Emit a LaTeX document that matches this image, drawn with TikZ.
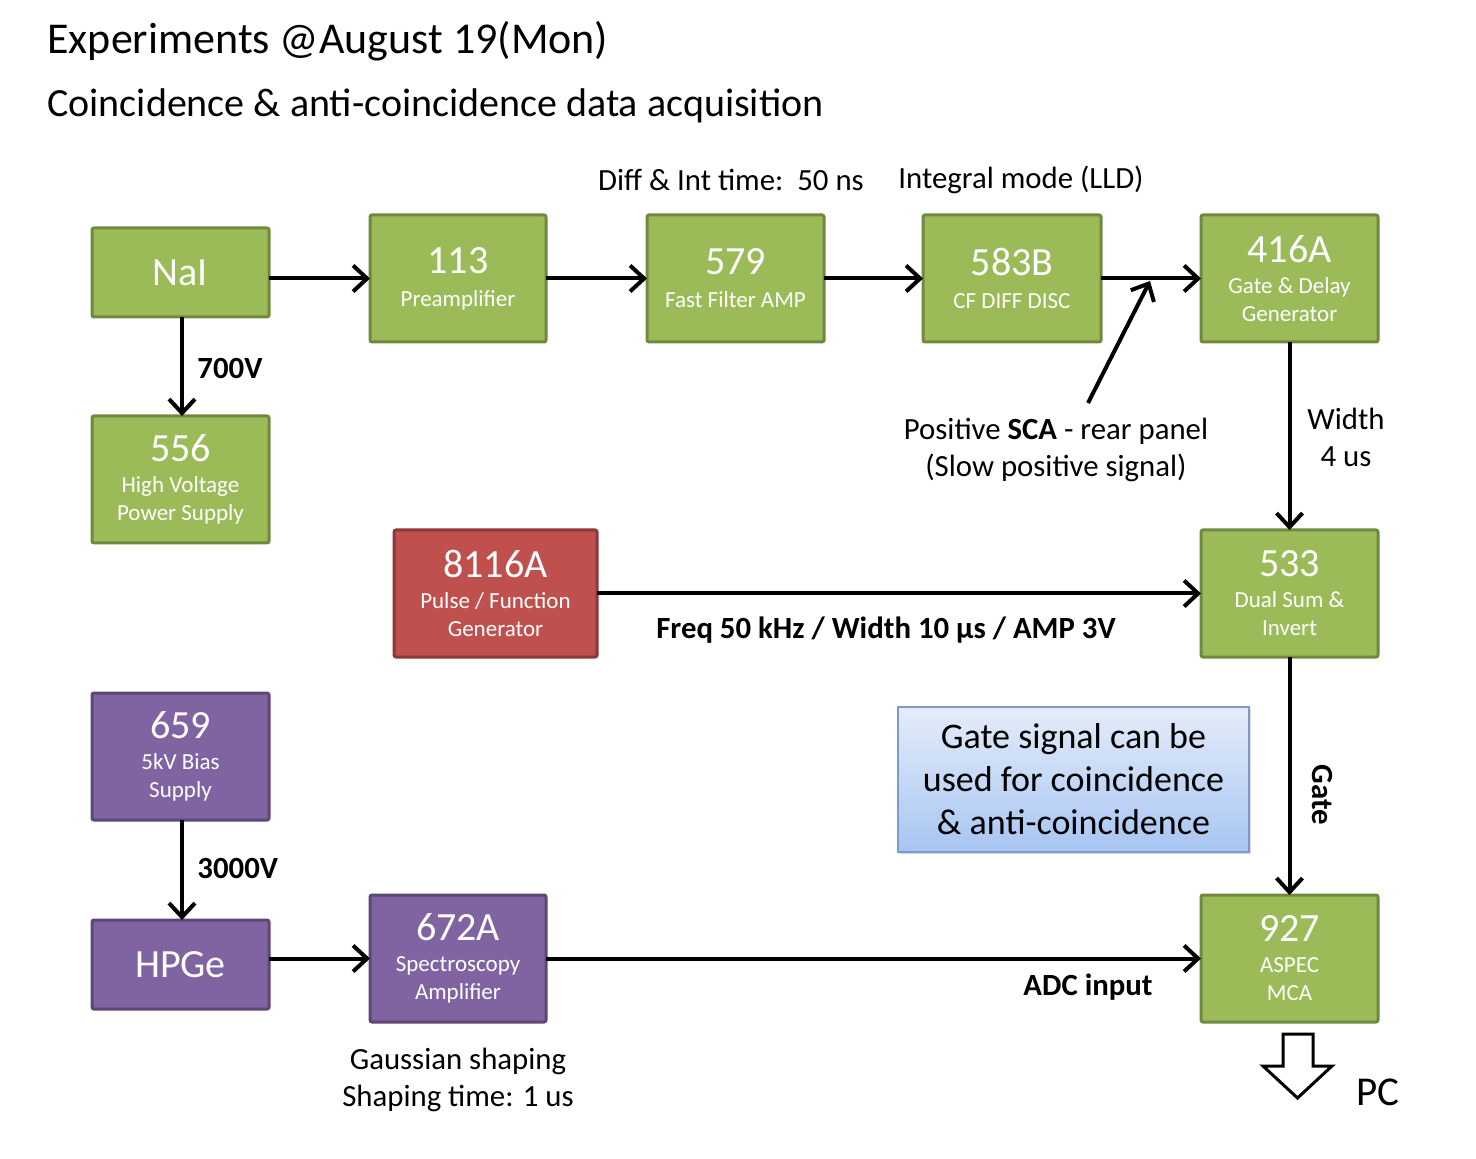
\documentclass[tikz,border=0pt]{standalone}
\usepackage{fontspec}
\setmainfont{Carlito}
\usetikzlibrary{arrows.meta,shadows}
\definecolor{gfill}{HTML}{9BBB59}\definecolor{gline}{HTML}{71893F}
\definecolor{rfill}{HTML}{C0504D}\definecolor{rline}{HTML}{8C3836}
\definecolor{pfill}{HTML}{8064A2}\definecolor{pline}{HTML}{5C4776}
\definecolor{ntop}{HTML}{E4ECF9}\definecolor{nbot}{HTML}{A7C5F2}\definecolor{nline}{HTML}{7B9AD0}
\newcommand\numf{\fontsize{20}{24}\selectfont}
\newcommand\subf{\fontsize{11.5}{14}\selectfont}
\newcommand\lblf{\fontsize{15.4}{18.5}\selectfont}
\tikzset{
  box/.style={draw, line width=1.5pt, rounded corners=1pt, align=center, text=white, inner sep=0pt, outer sep=0pt, font=\subf},
  gbox/.style={box, fill=gfill, draw=gline},
  rbox/.style={box, fill=rfill, draw=rline},
  pbox/.style={box, fill=pfill, draw=pline},
  conn/.style={line width=2pt, -{Straight Barb[length=7pt,width=13pt,line width=2pt]}},
  lbl/.style={font=\lblf, align=center, inner sep=0pt},
  blbl/.style={font=\lblf\bfseries, inner sep=0pt},
}
\begin{document}
\begin{tikzpicture}[x=0.5pt,y=-0.5pt]
\useasboundingbox (0,0) rectangle (1476,1159);
% title
\node[anchor=west, inner sep=0pt, font=\fontsize{22}{26}\selectfont] (title) at (47,41) {Experiments @August 19(Mon)};
\node[anchor=west, inner sep=0pt, font=\fontsize{20}{24}\selectfont] (subtitle) at (47,106) {Coincidence \& anti-coincidence data acquisition};
% boxes
\node[gbox, minimum width=88.5pt, minimum height=44.5pt] (nai) at (180.5,272.5) {\numf NaI};
\node[gbox, minimum width=88pt, minimum height=63.5pt] (b113) at (458,278.5) {\numf 113\\[2.5pt]Preamplifier};
\node[gbox, minimum width=88.5pt, minimum height=63.5pt] (b579) at (735.5,278.5) {\numf 579\\[2.5pt]Fast Filter AMP};
\node[gbox, minimum width=89pt, minimum height=63.5pt] (b583) at (1012,278.5) {\numf 583B\\[2.5pt]CF DIFF DISC};
\node[gbox, minimum width=88.5pt, minimum height=63.5pt] (b416) at (1289.5,278.5) {\numf 416A\\[1.5pt]Gate \& Delay\\Generator};
\node[gbox, minimum width=88.5pt, minimum height=63.5pt] (b556) at (180.5,479.5) {\numf 556\\[1.5pt]High Voltage\\Power Supply};
\node[rbox, minimum width=101.5pt, minimum height=63.5pt] (b8116) at (495.5,593.5) {\numf 8116A\\[1.5pt]Pulse / Function\\Generator};
\node[gbox, minimum width=88.5pt, minimum height=63.5pt] (b533) at (1289.5,593.5) {\numf 533\\[1.5pt]Dual Sum \&\\Invert};
\node[pbox, minimum width=88.5pt, minimum height=63.5pt] (b659) at (180.5,756.5) {\numf 659\\[1.5pt]5kV Bias\\Supply};
\node[pbox, minimum width=88.5pt, minimum height=44.5pt] (hpge) at (180.5,964.5) {\numf HPGe};
\node[pbox, minimum width=88pt, minimum height=63.5pt] (b672) at (458,958.5) {\numf 672A\\[1.5pt]Spectroscopy\\Amplifier};
\node[gbox, minimum width=88.5pt, minimum height=63.5pt] (b927) at (1289.5,958.5) {\numf 927\\[1.5pt]ASPEC\\MCA};
% note
\node[draw=nline, line width=0.8pt, top color=ntop, bottom color=nbot, minimum width=175.5pt, minimum height=72.5pt, align=center, inner sep=0pt,
  font=\fontsize{18}{21.5}\selectfont, drop shadow={opacity=0.3, shadow xshift=1.2pt, shadow yshift=-1.2pt}] (note) at (1073.5,779.5)
  {Gate signal can be\\used for coincidence\\\& anti-coincidence};
% labels
\node[lbl] (ldiff) at (731,180) {Diff \& Int time:\ \ 50 ns};
\node[lbl] (lint) at (1021,180) {Integral mode (LLD)};
\node[blbl, anchor=west] (l700) at (197,369) {700V};
\node[lbl] (lsca) at (1056,450) {Positive \textbf{SCA} - rear panel\\(Slow positive signal)};
\node[lbl] (lwidth) at (1346,437) {Width\\4 us};
\node[blbl] (lfreq) at (886,630) {Freq 50 kHz / Width 10 µs / AMP 3V};
\node[blbl, rotate=-90] (lgate) at (1322,795) {Gate};
\node[blbl, anchor=west] (l3000) at (197,869) {3000V};
\node[blbl] (ladc) at (1088,987) {ADC input};
\node[lbl] (lgauss) at (458,1080) {Gaussian shaping\\Shaping time: 1 us};
\node[anchor=west, inner sep=0pt, font=\fontsize{20.5}{24}\selectfont] (lpc) at (1356,1092) {PC};
% connectors
\draw[conn] (nai.east |- b113.west) -- (b113.west);
\draw[conn] (b113) -- (b579);
\draw[conn] (b579) -- (b583);
\draw[conn] (b583) -- (b416);
\draw[conn] (nai.south -| 182,0) -- (b556.north -| 182,0);
\draw[conn] (b659.south -| 182,0) -- (hpge.north -| 182,0);
\draw[conn] (b416) -- (b533);
\draw[conn] (b533) -- (b927);
\draw[conn] (b8116) -- (b533);
\draw[conn] (hpge.east |- b672.west) -- (b672.west);
\draw[conn] (b672) -- (b927);
\coordinate (scafoot) at (1088,403);
\coordinate (scatip) at (1150,281);
\draw[conn] (scafoot) -- (scatip);
% output arrow to PC
\draw[line width=1.5pt, fill=white, line join=miter]
  (1283,1034) -- (1313,1034) -- (1313,1066) -- (1332,1066) -- (1297.5,1098) -- (1263,1066) -- (1283,1066) -- cycle;
\end{tikzpicture}
\end{document}
